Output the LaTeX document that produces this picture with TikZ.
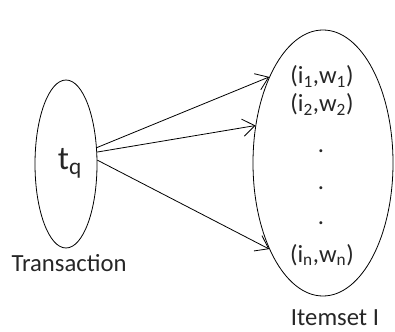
\documentclass[tikz,border=0pt]{standalone}
\usepackage{fontspec}
\setmainfont{Carlito}
\usetikzlibrary{arrows.meta,shapes.geometric}

\begin{document}
\begin{tikzpicture}[
  x=0.75pt, y=-0.75pt,
  >={Straight Barb[length=9pt,width=13pt]},
  font=\fontsize{18.5}{22}\selectfont,
  line width=0.6pt,
  every node/.style={text=black!85}
]

\useasboundingbox (0,0) rectangle (395,331);

% Ellipses
\node[ellipse, draw, inner sep=0pt, minimum width=46.5pt, minimum height=126pt] (trans) at (66,164) {};
\node[ellipse, draw, inner sep=0pt, minimum width=105pt, minimum height=199.5pt] (items) at (323,163) {};

% Labels
\node (tq) at (70,163) {\fontsize{25}{28}\selectfont t\textsubscript{q}};
\node[anchor=base] (translabel) at (69,271) {Transaction};
\node[anchor=base] (itemslabel) at (335,325) {Itemset I};

% Item pairs
\node[anchor=base] (pairone) at (322,84) {(i\textsubscript{1},w\textsubscript{1})};
\node[anchor=base] (pairtwo) at (322,112) {(i\textsubscript{2},w\textsubscript{2})};
\node[anchor=base] (dotone) at (321,152) {.};
\node[anchor=base] (dottwo) at (321,189) {.};
\node[anchor=base] (dotthree) at (321,224) {.};
\node[anchor=base] (pairn) at (322,262) {(i\textsubscript{n},w\textsubscript{n})};

% Arrows
\draw[->] (trans.28) -- (items.122);
\draw[->] (trans.21) -- (items.151);
\draw[->] (trans.7) -- (items.238);

\end{tikzpicture}
\end{document}
